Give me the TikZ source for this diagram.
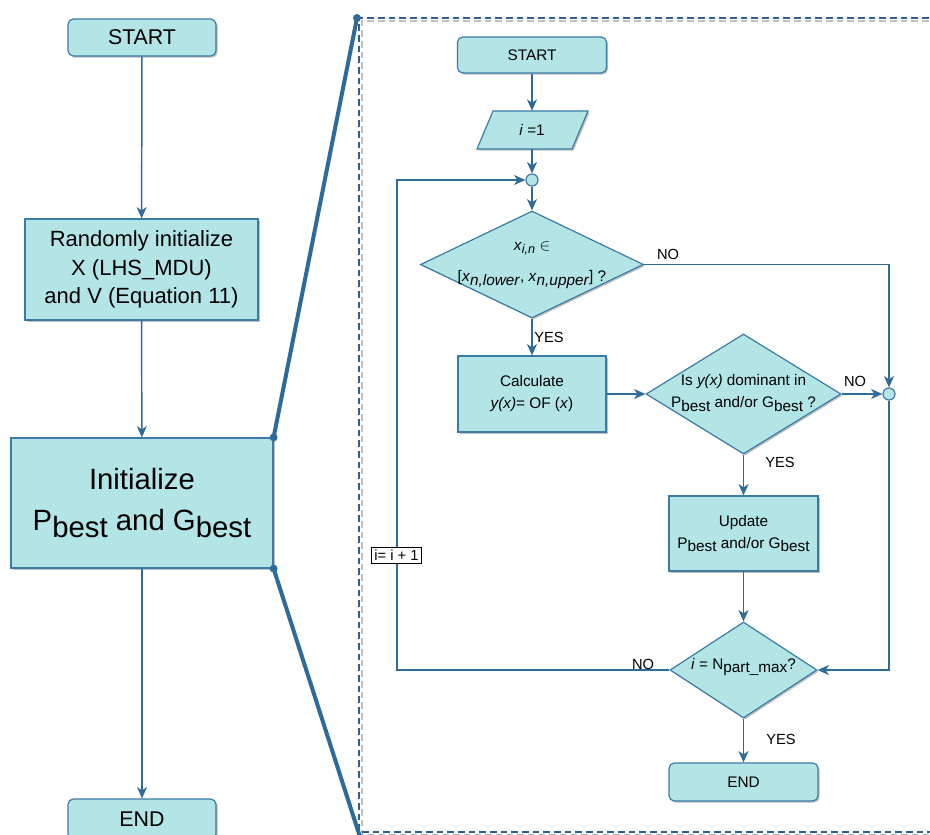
\documentclass[tikz,border=0pt]{standalone}
\usepackage{fontspec}
\setmainfont{Liberation Sans}
\usetikzlibrary{arrows.meta,shapes.geometric,shadows}
\definecolor{boxfill}{HTML}{B3E5E6}
\definecolor{boxline}{HTML}{3C7BA6}
\definecolor{linec}{HTML}{2E6A9A}
\definecolor{framec}{HTML}{2F5F8A}
\newcommand{\lo}[1]{\raisebox{-0.45ex}{#1}}
\newcommand{\los}[1]{\raisebox{-0.45ex}{\fontsize{9.5}{11}\selectfont #1}}
\tikzset{
  shad/.style={drop shadow={shadow xshift=1.2pt,shadow yshift=-1.2pt,opacity=0.25,fill=black}},
  proc/.style={draw=boxline, fill=boxfill, line width=0.9pt, align=center, inner sep=0pt, shad},
  term/.style={proc, rounded corners=4pt},
  dec/.style={draw=boxline, fill=boxfill, line width=0.9pt, diamond, inner sep=0pt, shad},
  conn/.style={draw=linec, line width=1.1pt, -{Stealth[length=8.5pt,width=7.5pt,inset=2.5pt]}},
  plain/.style={draw=linec, line width=1.1pt},
  jn/.style={circle, draw=boxline, fill=boxfill, line width=0.9pt, minimum size=9pt, inner sep=0pt},
  lbl/.style={font=\fontsize{11}{13}\selectfont, inner sep=1pt},
  rtxt/.style={align=center, font=\fontsize{11.5}{16.5}\selectfont},
  thick link/.style={draw=linec, line width=3pt, line cap=round}
}
\begin{document}
\begin{tikzpicture}[x=0.75pt,y=-0.75pt]
\clip (0,0) rectangle (930,834);
\fill[white] (0,0) rectangle (930,834);

% ---------- frame ----------
\draw[gray!50, line width=1.2pt, dash pattern=on 5pt off 3pt] (950,21) -- (362,21) -- (362,835) -- (950,835);
\draw[framec, line width=1.3pt, dash pattern=on 5pt off 3pt] (950,18) -- (359,18) -- (359,832) -- (950,832);

% ---------- left column ----------
\node[term, minimum width=148*0.75pt, minimum height=37*0.75pt, font=\fontsize{16}{19}\selectfont] (s1) at (142,37.5) {START};
\node[proc, minimum width=233*0.75pt, minimum height=101*0.75pt, font=\fontsize{16.5}{21.5}\selectfont] (r1) at (141.5,269.5) {Randomly initialize\\X (LHS\_MDU)\\and V (Equation 11)};
\node[proc, minimum width=262*0.75pt, minimum height=130*0.75pt, font=\fontsize{22}{31}\selectfont] (p1) at (142,503) {Initialize\\P\lo{best} and G\lo{best}};
\node[term, minimum width=148*0.75pt, minimum height=40*0.75pt, font=\fontsize{16}{19}\selectfont] (e1) at (142,819) {END};

\draw[conn] (s1) -- (r1);
\draw[conn] (r1) -- (p1);
\draw[conn] (p1) -- (e1);

% thick zoom links
\coordinate (ft) at (357,18);
\coordinate (fb) at (361,840);
\draw[thick link] (p1.north east) -- (ft);
\draw[thick link] (p1.south east) -- (fb);
\fill[linec] (p1.north east) circle (3pt);
\fill[linec] (p1.south east) circle (3pt);
\fill[linec] (ft) circle (3pt);

% ---------- right flowchart ----------
\node[term, minimum width=149*0.75pt, minimum height=36*0.75pt, rtxt] (s2) at (532,55) {START};
\draw[draw=boxline, fill=boxfill, line width=0.9pt, shad] (493,111) -- (588,111) -- (572,149) -- (477,149) -- cycle;
\node[minimum width=111*0.75pt, minimum height=38*0.75pt, inner sep=0pt, rtxt] (i1) at (532,130) {\textit{i} =1};
\node[jn] (c1) at (532,180) {};
\node[dec, minimum width=223*0.75pt, minimum height=107*0.75pt] (d1) at (532,264.5) {};
\node[rtxt] (d1t) at (532,265) {\textit{x}\los{\textit{i,n}} $\in$\\[7pt] {[}\textit{x}\lo{\textit{n,lower}}, \textit{x}\lo{\textit{n,upper}}] ?};
\node[proc, minimum width=148*0.75pt, minimum height=76*0.75pt, rtxt] (calc) at (532,394) {Calculate\\\textit{y(x)}= OF (\textit{x})};
\node[dec, minimum width=195*0.75pt, minimum height=120*0.75pt] (d2) at (743.5,394) {};
\node[rtxt] (d2t) at (743.5,393) {Is \textit{y(x)} dominant in\\P\lo{best} and/or G\lo{best} ?};
\node[jn] (c2) at (889,394) {};
\node[proc, minimum width=149*0.75pt, minimum height=75*0.75pt, rtxt] (upd) at (743.5,533.5) {Update\\P\lo{best} and/or G\lo{best}};
\node[dec, minimum width=147*0.75pt, minimum height=96*0.75pt] (d3) at (743.5,670) {};
\node[rtxt] (d3t) at (743.5,667) {\textit{i} = N\lo{part\_max}?};
\node[term, minimum width=149*0.75pt, minimum height=38*0.75pt, rtxt] (e2) at (743.5,782) {END};

\coordinate (lx) at (397,0);

\draw[conn] (s2) -- (i1);
\draw[conn] (i1) -- (c1);
\draw[conn] (c1) -- (d1);
\draw[conn] (d1) -- (calc);
\draw[conn] (calc) -- (d2);
\draw[conn] (d2) -- (c2);
\draw[conn] (d1.east) -- (d1.east -| c2) -- (c2.north);
\draw[conn] (d2) -- (upd);
\draw[conn] (upd) -- (d3);
\draw[conn] (c2.south) -- (c2 |- d3.east) -- (d3.east);
\draw[conn] (d3) -- (e2);
\draw[conn] (d3.west) -- (d3.west -| lx) -- (lx |- c1) -- (c1.west);

\node[draw=black, fill=white, line width=0.8pt, inner xsep=2pt, inner ysep=2pt, font=\fontsize{11}{13}\selectfont] (inc) at (396.5,555.5) {i= i + 1};

\node[lbl] (n1) at (668,254) {NO};
\node[lbl] (y1) at (549,337) {YES};
\node[lbl] (n2) at (855,381) {NO};
\node[lbl] (y2) at (780,462) {YES};
\node[lbl] (n3) at (643,664) {NO};
\node[lbl] (y3) at (781,739) {YES};
\end{tikzpicture}
\end{document}
